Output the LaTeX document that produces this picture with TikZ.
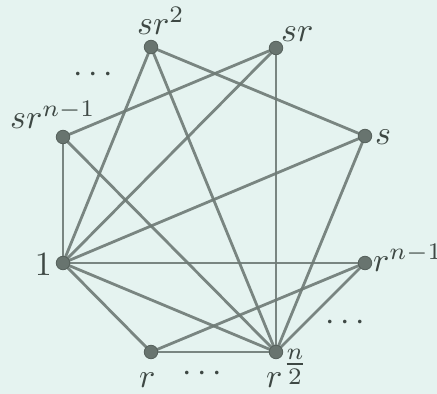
\documentclass[tikz,border=0pt]{standalone}
\usepackage{amsmath}
\usepackage{graphicx}
\definecolor{bg}{HTML}{E5F3F0}
\definecolor{edge}{HTML}{6E7A75}
\definecolor{vfill}{HTML}{68746F}
\definecolor{vdraw}{HTML}{56615C}
\definecolor{txt}{HTML}{3E4844}
\newcommand{\lbtxt}[1]{\scalebox{3.4}{$#1$}}
\tikzset{
  vert/.style={circle,fill=vfill,draw=vdraw,line width=0.8pt,inner sep=0pt,minimum size=13.5pt},
  lab/.style={text=txt,font=\normalsize,inner sep=0pt},
  edg/.style={draw=edge,line width=2.8pt,opacity=0.9},
}
\begin{document}
\begin{tikzpicture}[x=1pt,y=1pt]
\fill[bg] (0,0) rectangle (437,394);
\useasboundingbox (0,0) rectangle (437,394);
% vertices (y = 394 - pixel y)
\coordinate (Psr2) at (151,347);
\coordinate (Psr) at (276,346);
\coordinate (Psrn) at (63,257);
\coordinate (Ps) at (365,258);
\coordinate (Pone) at (63,131);
\coordinate (Prn) at (365,131);
\coordinate (Pr) at (151,42);
\coordinate (Prh) at (276,42);
% edges
\draw[edg] (Pone) -- (Psrn);
\draw[edg] (Pone) -- (Psr2);
\draw[edg] (Pone) -- (Psr);
\draw[edg] (Pone) -- (Ps);
\draw[edg] (Pone) -- (Prn);
\draw[edg] (Pone) -- (Prh);
\draw[edg] (Pone) -- (Pr);
\draw[edg] (Psrn) -- (Psr);
\draw[edg] (Psrn) -- (Prh);
\draw[edg] (Psr2) -- (Ps);
\draw[edg] (Psr2) -- (Prh);
\draw[edg] (Psr) -- (Prh);
\draw[edg] (Ps) -- (Prh);
\draw[edg] (Prn) -- (Pr);
\draw[edg] (Prn) -- (Prh);
\draw[edg] (Pr) -- (Prh);
% nodes
\node[vert] (sr2) at (Psr2) {};
\node[vert] (sr) at (Psr) {};
\node[vert] (srn) at (Psrn) {};
\node[vert] (s) at (Ps) {};
\node[vert] (one) at (Pone) {};
\node[vert] (rn) at (Prn) {};
\node[vert] (r) at (Pr) {};
\node[vert] (rh) at (Prh) {};
% labels
\node[lab,anchor=base west] (lsr2) at (137,359) {\lbtxt{sr^2}};
\node[lab,anchor=base west] (lsr) at (281,352) {\lbtxt{sr}};
\node[lab,anchor=base west] (lsrn) at (10,265) {\lbtxt{sr^{n-1}}};
\node[lab,anchor=base west] (ls) at (375,249) {\lbtxt{s}};
\node[lab,anchor=base east] (lone) at (52,118) {\lbtxt{1}};
\node[lab,anchor=base west] (lrn) at (373,122) {\lbtxt{r^{n-1}}};
\node[lab,anchor=base west] (lr) at (139,6) {\lbtxt{r}};
\node[lab,anchor=base west] (lrh) at (266,6) {\lbtxt{r^{\tfrac{n}{2}}}};
\node[lab] (d1) at (96,319) {\lbtxt{\cdots}};
\node[lab] (d2) at (348,71) {\lbtxt{\cdots}};
\node[lab] (d3) at (205,20) {\lbtxt{\cdots}};
\end{tikzpicture}
\end{document}
